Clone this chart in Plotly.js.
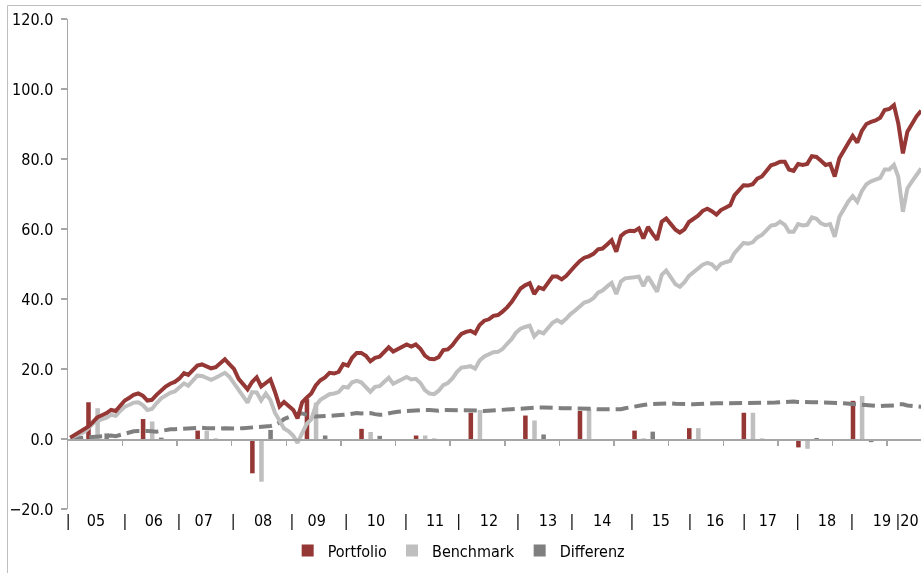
<!DOCTYPE html>
<html>
<head>
<meta charset="utf-8">
<script src="https://cdn.plot.ly/plotly-3.0.1.min.js"></script>
<style>
  html, body { margin: 0; padding: 0; background: #ffffff; }
  #chart { width: 921px; height: 573px; will-change: transform; }
</style>
</head>
<body>
<div id="chart"></div>
<script>
// ---------- DATA (monthly, Jan 2005 .. Aug 2020) ----------
const startYear = 2005;

const portfolio = [
  0.4, 1.2, 1.8, 2.4, 3.5, 4.8, 6.2, 6.8, 7.4, 8.3, 8.0, 9.5,
  11.0, 11.8, 12.6, 13.0, 12.4, 11.0, 11.2, 12.6, 14.0, 15.0, 15.8, 16.3,
  17.3, 18.8, 18.3, 19.6, 21.0, 21.3, 20.8, 20.2, 20.5, 21.5, 22.8, 21.4,
  20.0, 17.2, 15.9, 14.2, 16.3, 17.6, 15.0, 15.9, 17.0, 13.5, 9.3, 10.6,
  9.4, 8.3, 5.9, 10.5, 11.8, 13.0, 15.3, 16.8, 17.6, 18.9, 18.7, 19.2,
  21.4, 21.0, 23.2, 24.6, 24.6, 23.8, 22.2, 23.2, 23.5, 25.0, 26.2, 25.0,
  25.6, 26.3, 27.0, 26.4, 27.0, 25.8, 23.8, 22.9, 22.8, 23.4, 25.4, 25.6,
  26.8, 28.6, 30.0, 30.6, 30.9, 30.2, 32.6, 33.8, 34.2, 35.2, 35.4, 36.4,
  37.6, 39.2, 41.2, 43.0, 43.9, 44.5, 41.4, 43.3, 42.8, 44.5, 46.4, 46.4,
  45.6, 46.6, 48.2, 49.5, 50.8, 51.8, 52.2, 52.9, 54.2, 54.4, 55.6, 56.8,
  53.5, 58.0, 59.0, 59.5, 59.4, 60.2, 57.3, 60.6, 58.6, 56.9, 62.1, 63.0,
  61.4, 59.8, 59.0, 59.9, 62.0, 63.0, 63.8, 65.2, 65.8, 65.1, 64.1, 65.4,
  66.2, 66.8, 69.6, 71.0, 72.5, 72.4, 72.8, 74.4, 75.0, 76.6, 78.2, 78.6,
  79.2, 79.2, 77.0, 76.6, 78.6, 78.3, 78.6, 80.8, 80.6, 79.5, 78.3, 78.6,
  75.0, 80.2, 82.0, 84.5, 86.6, 84.7, 88.0, 90.0, 90.6, 91.0, 91.8, 94.0,
  94.3, 95.4, 90.2, 81.6, 87.8, 90.2, 92.2, 93.8
];

const benchmark = [
  0.3, 0.9, 1.4, 1.9, 3.0, 4.4, 5.2, 5.6, 6.1, 6.9, 6.6, 8.0,
  9.2, 9.8, 10.4, 10.5, 9.7, 8.3, 8.6, 10.2, 11.6, 12.4, 13.2, 13.6,
  14.9, 15.9, 15.2, 16.6, 18.1, 18.0, 17.4, 16.9, 17.5, 18.2, 18.9, 17.8,
  15.9, 14.0, 12.1, 10.4, 13.4, 13.3, 11.0, 13.0, 11.1, 7.5, 5.2, 3.0,
  2.2, 0.9, -1.1, 2.0, 4.3, 5.6, 9.5, 11.2, 12.0, 12.8, 13.0, 13.4,
  14.9, 14.7, 16.2, 16.6, 16.2, 15.0, 13.5, 14.9, 15.1, 16.3, 17.5, 15.8,
  16.4, 17.0, 17.7, 17.0, 17.2, 16.0, 14.0, 13.0, 12.8, 13.8, 15.4, 16.0,
  17.3, 19.2, 20.4, 20.6, 20.8, 20.1, 22.4, 23.6, 24.3, 24.8, 24.9, 25.7,
  27.2, 28.6, 30.4, 31.5, 32.0, 32.4, 29.3, 30.7, 30.2, 31.6, 33.2, 34.0,
  33.2, 34.4, 35.7, 36.7, 38.0, 39.0, 39.4, 40.2, 41.8, 42.4, 43.6, 44.6,
  41.4, 45.0, 45.9, 46.2, 46.2, 46.4, 43.7, 46.4, 44.3, 42.1, 46.9, 48.1,
  46.2, 44.2, 43.5, 44.8, 46.6, 47.8, 48.6, 49.8, 50.3, 49.9, 48.6, 50.0,
  50.5, 50.9, 53.1, 54.4, 56.0, 55.8, 56.2, 57.6, 58.3, 59.6, 61.0, 61.2,
  62.1, 61.2, 59.2, 59.2, 61.4, 61.0, 61.2, 63.3, 62.9, 61.6, 61.1, 61.4,
  57.8, 63.5, 65.6, 67.8, 69.4, 67.8, 70.8, 72.8, 73.6, 74.0, 74.6, 77.0,
  77.0, 78.3, 74.9, 64.9, 71.6, 73.6, 75.5, 77.3
];

const differenz = [
  0.1, 0.2, 0.4, 0.6, 0.6, 0.7, 0.8, 0.9, 1.1, 1.0, 0.8, 1.2,
  1.6, 2.0, 2.2, 2.3, 2.4, 2.3, 2.2, 2.1, 2.3, 2.6, 2.8, 2.8,
  2.9, 3.0, 3.0, 3.2, 3.3, 3.2, 3.1, 3.0, 3.0, 3.0, 3.1, 3.0,
  3.0, 3.0, 3.1, 3.2, 3.3, 3.3, 3.4, 3.5, 3.7, 4.0, 4.7, 5.7,
  6.3, 6.7, 7.2, 7.3, 6.8, 6.5, 6.4, 6.4, 6.5, 6.6, 6.7, 6.9,
  6.9, 7.0, 7.3, 7.4, 7.3, 7.4, 7.4, 7.1, 6.9, 7.0, 7.4, 7.6,
  7.8, 7.9, 8.0, 8.2, 8.3, 8.3, 8.3, 8.3, 8.2, 8.1, 8.3, 8.3,
  8.3, 8.2, 8.1, 8.1, 8.1, 8.1, 8.1, 8.0, 8.1, 8.2, 8.3, 8.4,
  8.5, 8.5, 8.6, 8.7, 8.9, 9.0, 9.0, 9.0, 9.0, 8.9, 8.9, 8.8,
  8.8, 8.8, 8.8, 8.8, 8.7, 8.7, 8.6, 8.6, 8.5, 8.5, 8.4, 8.3,
  8.3, 8.5, 8.8, 9.1, 9.4, 9.6, 9.7, 9.9, 10.0, 10.1, 10.2, 10.2,
  10.2, 10.1, 10.0, 9.9, 9.9, 9.9, 10.0, 10.1, 10.2, 10.2, 10.2, 10.2,
  10.2, 10.2, 10.2, 10.2, 10.2, 10.2, 10.2, 10.2, 10.3, 10.3, 10.4, 10.4,
  10.5, 10.6, 10.7, 10.7, 10.6, 10.5, 10.5, 10.5, 10.5, 10.5, 10.5, 10.5,
  10.4, 10.3, 10.2, 10.1, 10.0, 9.9, 9.7, 9.5, 9.4, 9.4, 9.4, 9.5,
  9.5, 9.6, 9.9, 9.9, 9.6, 9.4, 9.3, 9.2
];

// yearly bars
const barYears = [2005, 2006, 2007, 2008, 2009, 2010, 2011, 2012, 2013, 2014, 2015, 2016, 2017, 2018, 2019];
const barPortfolio = [10.5, 5.7, 2.4, -9.8, 11.4, 2.9, 1.0, 7.5, 6.7, 8.0, 2.4, 3.1, 7.5, -2.4, 10.9];
const barBenchmark = [8.8, 5.0, 2.3, -12.2, 10.4, 2.0, 1.0, 8.3, 5.3, 8.6, 0.2, 3.1, 7.5, -2.8, 12.3];
const barDifferenz = [1.6, 0.4, 0.1, 2.6, 1.0, 0.9, 0.1, -0.5, 1.3, -0.4, 2.1, -0.3, 0.1, 0.3, -0.9];

// axis labels
const sepLabel = '|';
const yearLabels = ['05', '06', '07', '08', '09', '10', '11', '12', '13', '14', '15', '16', '17', '18', '19'];
const lastLabel = '|20';

// ---------- helpers ----------
function monthDate(i, day) {
  const d = new Date(Date.UTC(startYear, i, day));
  return d.toISOString().slice(0, 10);
}
function offsetDate(m) {
  const w = Math.floor(m), f = m - w;
  const a = Date.UTC(startYear, w, 1), b = Date.UTC(startYear, w + 1, 1);
  return new Date(a + f * (b - a)).toISOString().replace('T', ' ').slice(0, 19);
}
const months = portfolio.map((_, i) => monthDate(i, 16));
const barX = barYears.map(y => y + '-07-18');

// ---------- styles ----------
const RED = '#953735', LIGHT = '#BFBFBF', DARK = '#7F7F7F', AXIS = '#A6A6A6';
const FONT = 'Liberation Sans Narrow, Arial Narrow, DejaVu Sans Condensed, sans-serif';
const FS = 16;
const xRange = ['2005-01-01', '2020-08-15'];

// label placement (months after Jan 2005) for the bottom label row
const sepPos = [0.05, 12.5, 24.4, 36.3, 49.2, 61.1, 74.3, 85.9, 98.9, 110.8, 124.0, 136.7, 148.6, 160.4, 172.3];
const yearPos = [6.2, 18.9, 29.9, 42.9, 54.7, 67.7, 80.7, 92.5, 105.5, 117.4, 130.3, 142.2, 153.8, 166.8, 178.9];
const lastPos = 184.4;

const tickVals = [], tickText = [];
sepPos.forEach(m => { tickVals.push(offsetDate(m)); tickText.push(sepLabel); });
yearPos.forEach((m, k) => { tickVals.push(offsetDate(m)); tickText.push(yearLabels[k]); });
tickVals.push(offsetDate(lastPos)); tickText.push(lastLabel);

const yearTicks = [];
for (let y = startYear + 1; y <= 2020; y++) yearTicks.push(y + '-01-01');

const data = [
  { type: 'bar', name: 'Portfolio', x: barX, y: barPortfolio, marker: { color: RED }, hoverinfo: 'skip' },
  { type: 'bar', name: 'Benchmark', x: barX, y: barBenchmark, marker: { color: LIGHT }, hoverinfo: 'skip' },
  { type: 'bar', name: 'Differenz', x: barX, y: barDifferenz, marker: { color: DARK }, hoverinfo: 'skip' },
  { type: 'scatter', mode: 'lines', x: months, y: differenz, showlegend: false,
    line: { color: DARK, width: 4, dash: '13px,6px' }, hoverinfo: 'skip' },
  { type: 'scatter', mode: 'lines', x: months, y: benchmark, showlegend: false,
    line: { color: LIGHT, width: 4 }, hoverinfo: 'skip' },
  { type: 'scatter', mode: 'lines', x: months, y: portfolio, showlegend: false,
    line: { color: RED, width: 4 }, hoverinfo: 'skip' },
  // carrier for the label axis (draws nothing)
  { type: 'scatter', mode: 'lines', x: [xRange[0]], y: [null], xaxis: 'x2', yaxis: 'y',
    showlegend: false, hoverinfo: 'skip', line: { width: 0 } }
];

const layout = {
  width: 921, height: 573,
  margin: { l: 68, r: 0, t: 19, b: 64 },
  paper_bgcolor: '#ffffff', plot_bgcolor: '#ffffff',
  font: { family: FONT, size: FS, color: '#000000' },
  barmode: 'group', bargap: 0.5, bargroupgap: 0.5,
  showlegend: true,
  legend: { orientation: 'h', x: 0.458, xanchor: 'center', y: -0.085, yanchor: 'middle',
            font: { family: FONT, size: FS, color: '#000000' }, traceorder: 'normal' },
  xaxis: {
    type: 'date', range: xRange, anchor: 'free', position: 20 / 140,
    showline: true, linecolor: AXIS, linewidth: 1.5,
    ticks: 'outside', ticklen: 5, tickwidth: 1.5, tickcolor: AXIS,
    tickmode: 'array', tickvals: yearTicks, showticklabels: false,
    showgrid: false, zeroline: false, fixedrange: true
  },
  xaxis2: {
    type: 'date', range: xRange, overlaying: 'x', anchor: 'y', side: 'bottom',
    showline: false, ticks: '', showgrid: false, zeroline: false,
    tickmode: 'array', tickvals: tickVals, ticktext: tickText, tickangle: 0,
    ticklabeloverflow: 'allow',
    tickfont: { family: FONT, size: FS, color: '#000000' }, fixedrange: true
  },
  yaxis: {
    range: [-20, 120], tickmode: 'linear', tick0: -20, dtick: 20, tickformat: '.1f',
    showline: true, linecolor: AXIS, linewidth: 1.5,
    ticks: 'outside', ticklen: 6, tickwidth: 1.5, tickcolor: AXIS,
    ticklabelstandoff: 4,
    showgrid: false, zeroline: false, fixedrange: true,
    tickfont: { family: FONT, size: FS, color: '#000000' }
  },
  shapes: [
    { type: 'rect', xref: 'paper', yref: 'paper', x0: (7.5 - 68) / 853, x1: 1.2,
      y0: -0.3, y1: (509 - 5.5) / 490, line: { color: '#BFBFBF', width: 1 }, fillcolor: 'rgba(0,0,0,0)', layer: 'below' }
  ]
};

Plotly.newPlot('chart', data, layout, { displayModeBar: false, staticPlot: true });
</script>
</body>
</html>
